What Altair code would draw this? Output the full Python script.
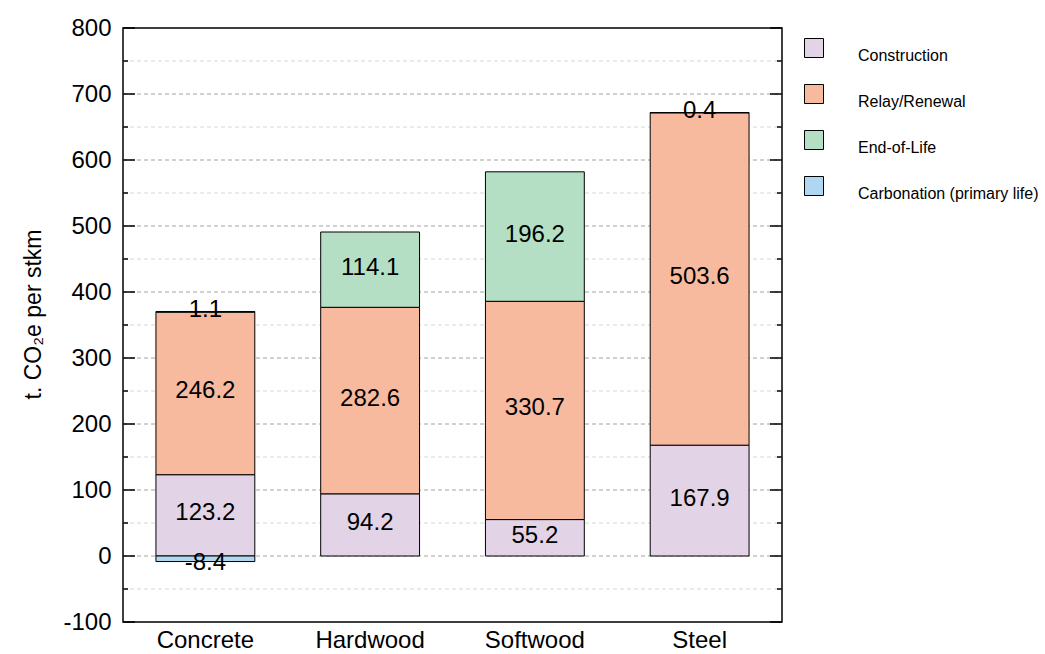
import altair as alt
import pandas as pd

# Embodied carbon per sleeper-track-km, by sleeper material and life-cycle stage
categories = ["Concrete", "Hardwood", "Softwood", "Steel"]
components = ["Construction", "Relay/Renewal", "End-of-Life", "Carbonation (primary life)"]
construction = [123.2, 94.2, 55.2, 167.9]
relay_renewal = [246.2, 282.6, 330.7, 503.6]
end_of_life = [1.1, 114.1, 196.2, 0.4]
carbonation = [-8.4, 0.0, 0.0, 0.0]
colors = ["#E2D4E6", "#F8BA9E", "#B4DFC4", "#B0D7F2"]

y_ticks = list(range(-100, 801, 100))
minor_ticks = list(range(-50, 751, 100))

W, H = 659, 594
FONT = "Liberation Sans"

rows = []
series = [construction, relay_renewal, end_of_life, carbonation]
for i, cat in enumerate(categories):
    pos, neg = 0.0, 0.0
    for j, comp in enumerate(components):
        v = series[j][i]
        if v == 0:
            continue
        if v > 0:
            y0, y1 = pos, pos + v
            pos = y1
        else:
            y0, y1 = neg, neg + v
            neg = y1
        rows.append({"category": cat, "component": comp, "value": v,
                     "y0": y0, "y1": y1, "mid": (y0 + y1) / 2,
                     "label": f"{v:.1f}", "order": j})
df = pd.DataFrame(rows)

yscale = alt.Scale(domain=[-100, 800], nice=False, zero=False)
yaxis = alt.Axis(values=y_ticks, title="t. CO₂e per stkm", titleFontSize=23,
                 titleFont=FONT, titleFontWeight="normal", titleColor="black",
                 titlePadding=17, titleY=286, labelFontSize=24, labelFont=FONT,
                 labelColor="black", labelPadding=12, ticks=False,
                 domain=False, grid=False, labelExpr="toString(datum.value)")
xscale = alt.Scale(domain=categories, paddingInner=0.4, paddingOuter=0.2)
xaxis = alt.Axis(title=None, labelAngle=0, labelFontSize=24, labelFont=FONT,
                 labelColor="black", labelPadding=6, ticks=False, domain=False,
                 grid=False)

major_df = pd.DataFrame({"v": y_ticks[1:-1]})
minor_df = pd.DataFrame({"v": minor_ticks})

grid_major = alt.Chart(major_df).mark_rule(
    color="#8c8c8c", strokeDash=[4, 3], strokeWidth=0.8
).encode(y=alt.Y("v:Q", scale=yscale, axis=yaxis),
         x=alt.value(0), x2=alt.value(W))
grid_minor = alt.Chart(minor_df).mark_rule(
    color="#cccccc", strokeDash=[4, 3], strokeWidth=0.8
).encode(y=alt.Y("v:Q", scale=yscale, axis=yaxis),
         x=alt.value(0), x2=alt.value(W))

tick_major_l = alt.Chart(pd.DataFrame({"v": y_ticks})).mark_rule(
    color="black", strokeWidth=1.5
).encode(y=alt.Y("v:Q", scale=yscale, axis=yaxis), x=alt.value(0), x2=alt.value(12))
tick_major_r = alt.Chart(pd.DataFrame({"v": y_ticks})).mark_rule(
    color="black", strokeWidth=1.5
).encode(y=alt.Y("v:Q", scale=yscale, axis=yaxis), x=alt.value(W - 12), x2=alt.value(W))
tick_minor_l = alt.Chart(minor_df).mark_rule(
    color="black", strokeWidth=1.5
).encode(y=alt.Y("v:Q", scale=yscale, axis=yaxis), x=alt.value(0), x2=alt.value(5))
tick_minor_r = alt.Chart(minor_df).mark_rule(
    color="black", strokeWidth=1.5
).encode(y=alt.Y("v:Q", scale=yscale, axis=yaxis), x=alt.value(W - 5), x2=alt.value(W))

bars = alt.Chart(df).mark_bar(stroke="black", strokeWidth=1).encode(
    x=alt.X("category:N", scale=xscale, axis=xaxis, sort=categories),
    y=alt.Y("y0:Q", scale=yscale, axis=yaxis),
    y2="y1:Q",
    color=alt.Color(
        "component:N",
        scale=alt.Scale(domain=components, range=colors),
        legend=alt.Legend(
            title=None, orient="none", legendX=681, legendY=10,
            symbolType="square", symbolSize=361, symbolStrokeColor="black",
            symbolStrokeWidth=1, symbolOpacity=1, labelFontSize=16,
            labelFont=FONT, labelColor="black", labelOffset=34,
            labelBaseline="top", rowPadding=18, labelLimit=300,
        ),
    ),
)

pos_labels = alt.Chart(df).transform_filter("datum.value > 0").mark_text(
    fontSize=24, font=FONT, color="black", baseline="middle", align="center", dy=-2
).encode(
    x=alt.X("category:N", scale=xscale, axis=xaxis, sort=categories),
    y=alt.Y("mid:Q", scale=yscale, axis=yaxis),
    text="label:N",
)
neg_labels = alt.Chart(df).transform_filter("datum.value < 0").mark_text(
    fontSize=24, font=FONT, color="black", baseline="middle", align="center", dy=4
).encode(
    x=alt.X("category:N", scale=xscale, axis=xaxis, sort=categories),
    y=alt.Y("mid:Q", scale=yscale, axis=yaxis),
    text="label:N",
)

chart = alt.layer(
    grid_minor, grid_major, bars, pos_labels, neg_labels,
    tick_major_l, tick_major_r, tick_minor_l, tick_minor_r,
).properties(
    width=W, height=H,
    autosize=alt.AutoSizeParams(type="none"),
    padding={"left": 123, "top": 28, "right": 263, "bottom": 32},
    background="white",
).configure_view(stroke="black", strokeWidth=1.5)

chart.save("out.html", embed_options={"renderer": "svg", "actions": False})
